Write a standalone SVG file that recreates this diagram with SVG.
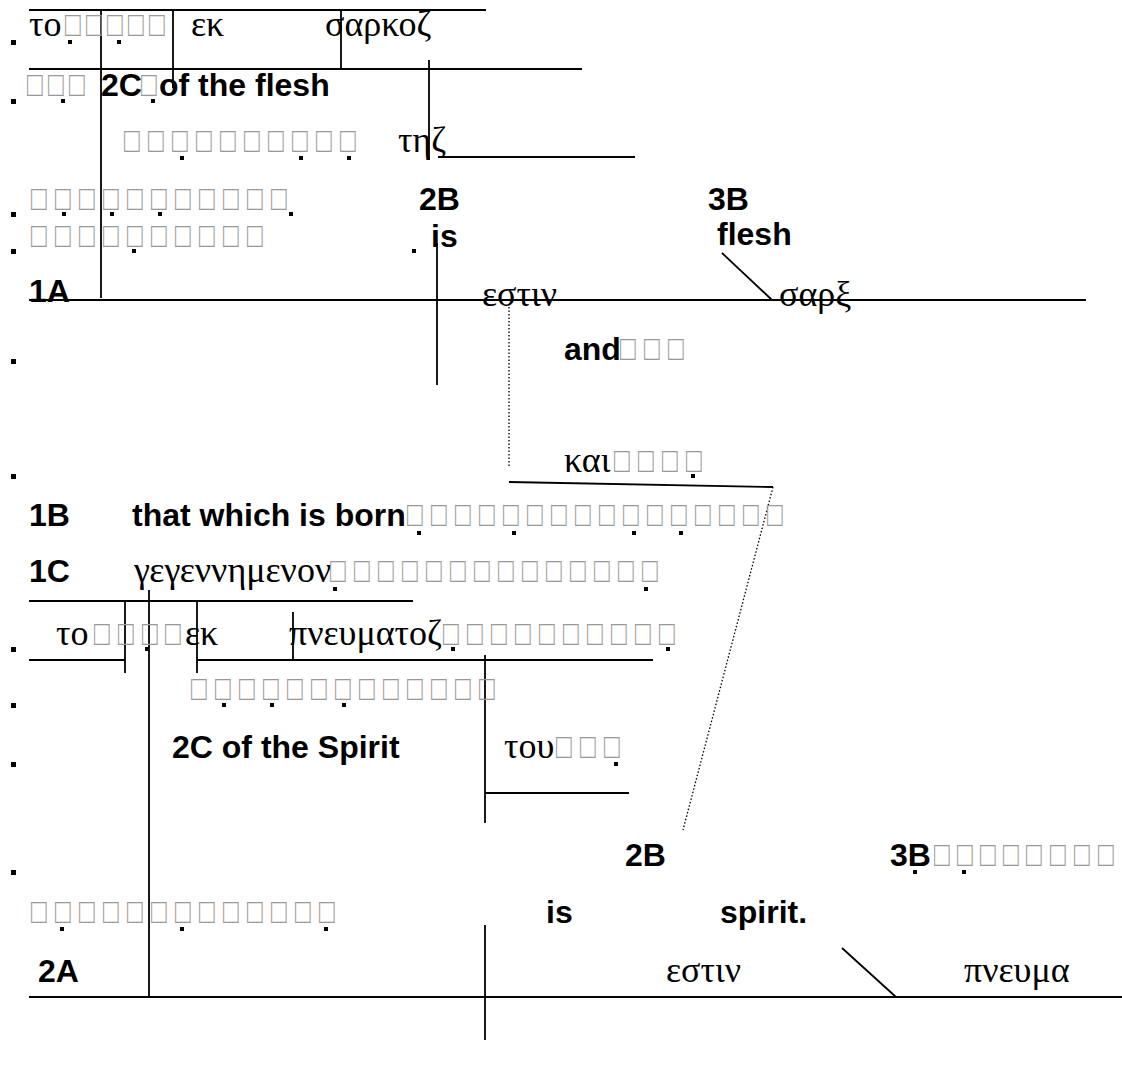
<svg xmlns="http://www.w3.org/2000/svg" width="1122" height="1067" viewBox="0 0 1122 1067">
<style>
.en{font-family:"Liberation Sans",Arial,sans-serif;font-weight:bold;font-size:32px;fill:#000}
.gr{font-family:"Liberation Serif","Times New Roman",serif;font-size:36px;fill:#000}
.bx{font-family:"Liberation Sans",Arial,sans-serif;font-size:26px;fill:#999}
.ln{stroke:#000;stroke-width:1.8;fill:none}
.dt{stroke:#000;stroke-width:1.3;fill:none;stroke-dasharray:1.5 2}
.d{fill:#000}
</style>
<rect width="1122" height="1067" fill="#fff"/>
<g id="connectors">
<line class="ln" x1="29" y1="10" x2="486" y2="10"/>
<line class="ln" x1="29" y1="69" x2="582" y2="69"/>
<line class="ln" x1="101" y1="10" x2="101" y2="298"/>
<line class="ln" x1="173" y1="10" x2="173" y2="88"/>
<line class="ln" x1="341" y1="10" x2="341" y2="69"/>
<line class="ln" x1="429" y1="60" x2="429" y2="160"/>
<line class="ln" x1="438" y1="157" x2="635" y2="157"/>
<line class="ln" x1="437" y1="243" x2="437" y2="385"/>
<line class="ln" x1="29" y1="300" x2="1086" y2="300"/>
<line class="ln" x1="722" y1="253" x2="772" y2="300"/>
<line class="dt" x1="509" y1="307" x2="509" y2="467"/>
<line class="ln" x1="509" y1="482" x2="773" y2="487"/>
<line class="dt" x1="773" y1="487" x2="683" y2="830"/>
<line class="ln" x1="29" y1="601" x2="413" y2="601"/>
<line class="ln" x1="125" y1="601" x2="125" y2="673"/>
<line class="ln" x1="149" y1="590" x2="149" y2="997"/>
<line class="ln" x1="197" y1="601" x2="197" y2="673"/>
<line class="ln" x1="293" y1="612" x2="293" y2="660"/>
<line class="ln" x1="29" y1="660" x2="125" y2="660"/>
<line class="ln" x1="197" y1="660" x2="653" y2="660"/>
<line class="ln" x1="485" y1="655" x2="485" y2="823"/>
<line class="ln" x1="485" y1="793" x2="629" y2="793"/>
<line class="ln" x1="29" y1="997" x2="1122" y2="997"/>
<line class="ln" x1="485" y1="925" x2="485" y2="1040"/>
<line class="ln" x1="842" y1="948" x2="896" y2="997"/>
</g>
<g id="marks">
<rect class="d" x="11" y="40" width="5" height="5"/>
<rect class="d" x="11" y="99" width="5" height="5"/>
<rect class="d" x="11" y="212" width="5" height="5"/>
<rect class="d" x="11" y="249" width="5" height="5"/>
<rect class="d" x="11" y="359" width="5" height="5"/>
<rect class="d" x="11" y="474" width="5" height="5"/>
<rect class="d" x="11" y="647" width="5" height="5"/>
<rect class="d" x="11" y="703" width="5" height="5"/>
<rect class="d" x="11" y="762" width="5" height="5"/>
<rect class="d" x="11" y="870" width="5" height="5"/>
<rect class="d" x="68" y="40" width="4" height="4"/>
<rect class="d" x="117" y="40" width="4" height="4"/>
<rect class="d" x="61" y="99" width="4" height="4"/>
<rect class="d" x="151" y="99" width="4" height="4"/>
<rect class="d" x="180" y="156" width="4" height="4"/>
<rect class="d" x="299" y="156" width="4" height="4"/>
<rect class="d" x="347" y="156" width="4" height="4"/>
<rect class="d" x="62" y="212" width="4" height="4"/>
<rect class="d" x="110" y="212" width="4" height="4"/>
<rect class="d" x="158" y="212" width="4" height="4"/>
<rect class="d" x="289" y="212" width="4" height="4"/>
<rect class="d" x="132" y="249" width="4" height="4"/>
<rect class="d" x="412" y="249" width="4" height="4"/>
<rect class="d" x="691" y="474" width="4" height="4"/>
<rect class="d" x="417" y="531" width="4" height="4"/>
<rect class="d" x="512" y="531" width="4" height="4"/>
<rect class="d" x="632" y="531" width="4" height="4"/>
<rect class="d" x="679" y="531" width="4" height="4"/>
<rect class="d" x="333" y="587" width="4" height="4"/>
<rect class="d" x="644" y="587" width="4" height="4"/>
<rect class="d" x="145" y="647" width="4" height="4"/>
<rect class="d" x="451" y="647" width="4" height="4"/>
<rect class="d" x="666" y="647" width="4" height="4"/>
<rect class="d" x="222" y="703" width="4" height="4"/>
<rect class="d" x="270" y="703" width="4" height="4"/>
<rect class="d" x="342" y="703" width="4" height="4"/>
<rect class="d" x="614" y="762" width="4" height="4"/>
<rect class="d" x="913" y="870" width="4" height="4"/>
<rect class="d" x="962" y="870" width="4" height="4"/>
<rect class="d" x="60" y="927" width="4" height="4"/>
<rect class="d" x="180" y="927" width="4" height="4"/>
<rect class="d" x="324" y="927" width="4" height="4"/>
</g>
<g id="n-row1">
<text class="gr" x="29" y="36">το</text>
<text class="bx" transform="translate(0,36) scale(1,1.35)" x="65 86 107 128 149" y="0">□□□□□</text>
<text class="gr" x="191" y="36">εκ</text>
<text class="gr" x="325" y="36">σαρκοζ</text>
</g>
<g id="n-2c-flesh">
<text class="bx" transform="translate(0,96) scale(1,1.35)" x="27 48 69" y="0">□□□</text>
<text class="en" x="101" y="96">2C</text>
<text class="bx" transform="translate(0,96) scale(1,1.35)" x="141" y="0">□</text>
<text class="en" x="159" y="96">of the flesh</text>
</g>
<g id="n-tes">
<text class="bx" transform="translate(0,152) scale(1,1.35)" x="124 148 172 196 220 244 268 292 316 340" y="0">□□□□□□□□□□</text>
<text class="gr" x="398" y="152">τηζ</text>
</g>
<g id="n-row-d">
<text class="bx" transform="translate(0,210) scale(1,1.35)" x="31 55 79 103 127 151 175 199 223 247 271" y="0">□□□□□□□□□□□</text>
<text class="en" x="419" y="210">2B</text>
<text class="en" x="708" y="210">3B</text>
</g>
<g id="n-row-e">
<text class="bx" transform="translate(0,247) scale(1,1.35)" x="31 55 79 103 127 151 175 199 223 247" y="0">□□□□□□□□□□</text>
<text class="en" x="431" y="247">is</text>
<text class="en" x="717" y="245">flesh</text>
</g>
<g id="n-1a">
<text class="en" x="29" y="302">1A</text>
<text class="gr" x="482" y="306">εστιν</text>
<text class="gr" x="779" y="306">σαρξ</text>
</g>
<g id="n-and">
<text class="en" x="564" y="360">and</text>
<text class="bx" transform="translate(0,360) scale(1,1.35)" x="620 644 668" y="0">□□□</text>
</g>
<g id="n-kai">
<text class="gr" x="564" y="472">και</text>
<text class="bx" transform="translate(0,472) scale(1,1.35)" x="614 638 662 686" y="0">□□□□</text>
</g>
<g id="n-1b">
<text class="en" x="29" y="526">1B</text>
<text class="en" x="132" y="526">that which is born</text>
<text class="bx" transform="translate(0,526) scale(1,1.35)" x="407 431 455 479 503 527 551 575 599 623 647 671 695 719 743 767" y="0">□□□□□□□□□□□□□□□□</text>
</g>
<g id="n-1c">
<text class="en" x="29" y="582">1C</text>
<text class="gr" x="134" y="582">γεγεννημενον</text>
<text class="bx" transform="translate(0,582) scale(1,1.35)" x="330 354 378 402 426 450 474 498 522 546 570 594 618 642" y="0">□□□□□□□□□□□□□□</text>
</g>
<g id="n-pneumatos">
<text class="gr" x="56" y="645">το</text>
<text class="bx" transform="translate(0,645) scale(1,1.35)" x="94 118 142 165" y="0">□□□□</text>
<text class="gr" x="185" y="645">εκ</text>
<text class="gr" x="289" y="645">πνευματοζ</text>
<text class="bx" transform="translate(0,645) scale(1,1.35)" x="443 467 491 515 539 563 587 611 635 659" y="0">□□□□□□□□□□</text>
</g>
<g id="n-boxrow">
<text class="bx" transform="translate(0,700) scale(1,1.35)" x="191 215 239 263 287 311 335 359 383 407 431 455 479" y="0">□□□□□□□□□□□□□</text>
</g>
<g id="n-2c-spirit">
<text class="en" x="172" y="758">2C of the Spirit</text>
<text class="gr" x="504" y="758">του</text>
<text class="bx" transform="translate(0,758) scale(1,1.35)" x="556 580 604" y="0">□□□</text>
</g>
<g id="n-2b-3b">
<text class="en" x="625" y="866">2B</text>
<text class="en" x="890" y="866">3B</text>
<text class="bx" transform="translate(0,866) scale(1,1.35)" x="934 957 980 1003 1026 1050 1074 1098" y="0">□□□□□□□□</text>
</g>
<g id="n-is-spirit">
<text class="bx" transform="translate(0,923) scale(1,1.35)" x="31 55 79 103 127 151 175 199 223 247 271 295 319" y="0">□□□□□□□□□□□□□</text>
<text class="en" x="546" y="923">is</text>
<text class="en" x="720" y="923">spirit.</text>
</g>
<g id="n-2a">
<text class="en" x="38" y="982">2A</text>
<text class="gr" x="666" y="982">εστιν</text>
<text class="gr" x="964" y="982">πνευμα</text>
</g>
</svg>
